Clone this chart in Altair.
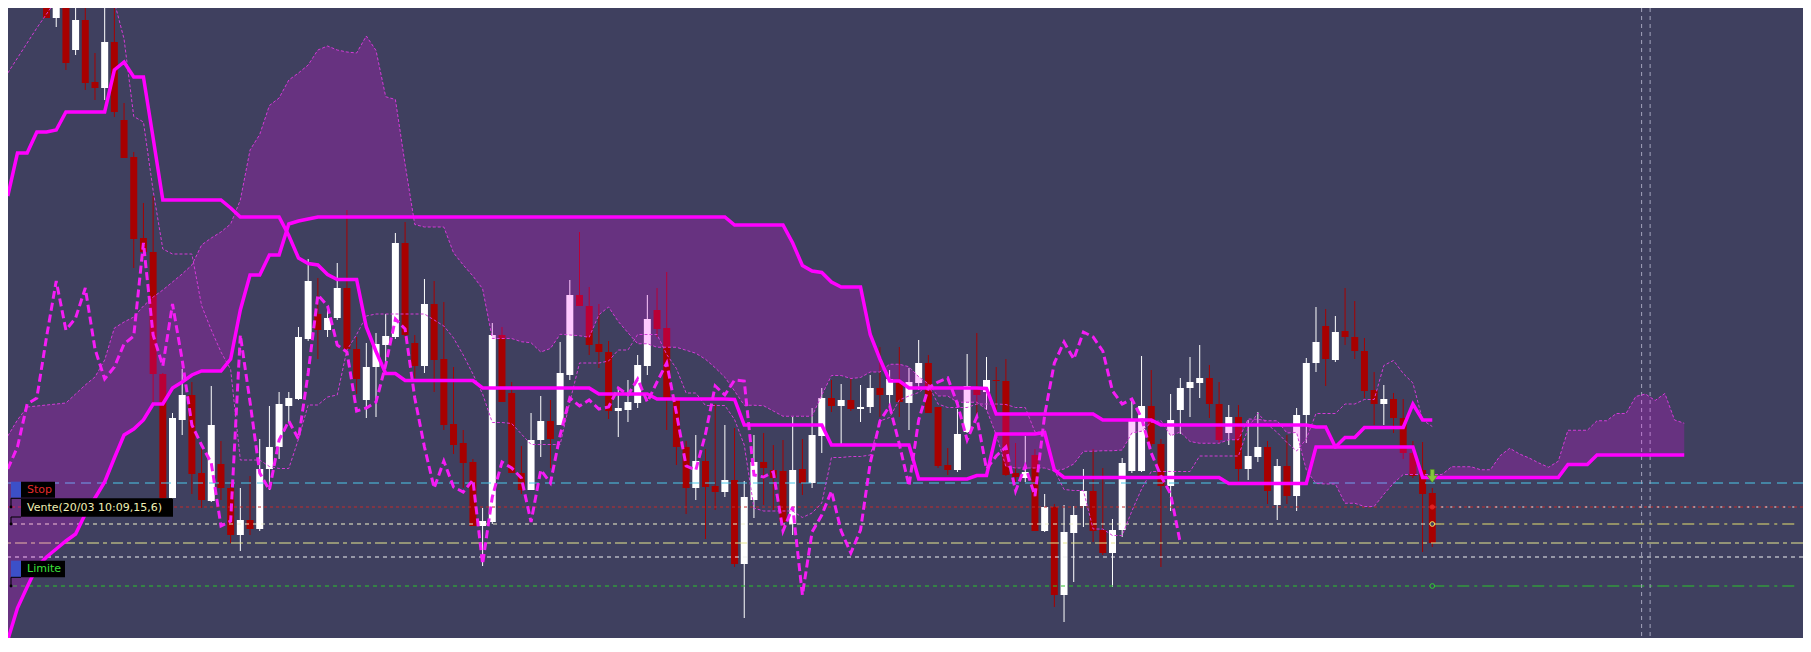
import altair as alt
import pandas as pd
import numpy as np

BG = "#3f405f"
W, H = 1795, 630
X_MIN, X_MAX = -3.46, 180.74
Y_MIN, Y_MAX = 14.29, 20.59

# ---------------- candles (bar 0 .. 143) ----------------
OPEN = [20.77, 20.49, 20.70, 20.17, 20.47, 19.85, 19.79, 20.25, 19.47, 19.10,
        18.29, 18.15, 16.93, 15.69, 16.47, 16.72, 15.94, 15.66, 16.03, 15.79,
        15.32, 15.47, 15.38, 15.98, 16.20, 16.61, 16.68, 17.28, 17.53, 17.37,
        17.49, 17.79, 17.18, 16.67, 17.00, 17.22, 17.30, 18.24, 17.24, 17.01,
        17.63, 17.08, 16.43, 16.24, 16.05, 15.41, 15.45, 17.32, 16.74, 15.94,
        15.77, 16.27, 16.46, 16.42, 16.92, 17.72, 17.61, 17.23, 17.15, 16.56,
        16.57, 16.64, 17.01, 17.57, 17.39, 16.69, 16.20, 15.79, 16.06, 15.81,
        15.75, 15.87, 15.03, 15.67, 16.05, 15.97, 15.96, 15.43, 15.98, 15.84,
        16.31, 16.69, 16.61, 16.67, 16.58, 16.60, 16.79, 16.72, 16.85, 16.64,
        16.84, 17.04, 16.60, 16.02, 15.97, 16.35, 16.79, 16.75, 16.87, 16.86,
        15.94, 15.89, 16.12, 15.36, 15.60, 14.72, 15.34, 15.61, 15.76, 15.37,
        15.14, 15.37, 15.96, 15.96, 16.61, 16.23, 15.81, 16.57, 16.79, 16.84,
        16.89, 16.63, 16.34, 16.50, 15.98, 16.10, 16.20, 15.62, 16.01, 15.71,
        16.52, 17.04, 17.41, 17.07, 17.36, 17.30, 17.16, 16.77, 16.63, 16.68,
        16.49, 16.14, 15.97, 15.74]
HIGH = [21.47, 21.02, 20.91, 20.88, 20.69, 20.14, 20.59, 20.59, 19.64, 19.15,
        18.64, 18.71, 16.94, 16.54, 16.98, 16.85, 16.18, 16.81, 16.26, 15.85,
        15.79, 15.91, 16.28, 16.61, 16.75, 16.75, 17.40, 18.08, 17.89, 17.57,
        18.04, 18.57, 17.30, 17.24, 17.34, 17.53, 18.34, 18.45, 17.32, 17.88,
        17.86, 17.65, 17.00, 16.37, 16.08, 15.59, 17.44, 17.40, 16.85, 16.21,
        16.54, 16.71, 16.67, 17.25, 17.87, 18.35, 17.80, 17.63, 17.26, 16.80,
        16.87, 17.12, 17.72, 17.79, 17.95, 16.69, 16.26, 16.32, 16.18, 16.63,
        16.42, 16.39, 15.86, 16.32, 16.34, 16.22, 16.27, 16.50, 16.28, 16.59,
        16.79, 16.87, 16.83, 16.89, 16.82, 16.92, 17.20, 16.97, 17.20, 16.99,
        17.27, 17.12, 16.60, 16.19, 16.58, 17.13, 17.34, 17.10, 17.00, 17.08,
        16.24, 16.31, 16.18, 15.73, 15.63, 15.62, 15.61, 15.98, 16.18, 15.99,
        15.48, 16.09, 16.67, 17.11, 16.97, 16.28, 16.73, 16.89, 17.10, 17.22,
        17.02, 16.85, 16.62, 16.62, 16.47, 16.55, 16.26, 16.08, 16.32, 16.59,
        17.09, 17.60, 17.58, 17.51, 17.79, 17.66, 17.29, 16.95, 16.82, 16.74,
        16.68, 16.26, 16.25, 15.79]
LOW = [20.49, 20.40, 19.97, 20.12, 19.77, 19.67, 19.67, 19.50, 19.09, 17.99,
       18.09, 16.65, 15.67, 15.68, 16.32, 15.73, 15.59, 15.65, 15.67, 15.24,
       15.16, 15.32, 15.36, 15.77, 16.08, 16.45, 16.67, 17.26, 17.08, 17.30,
       17.47, 17.16, 16.73, 16.49, 16.50, 17.02, 17.28, 17.28, 16.89, 16.94,
       16.75, 16.37, 16.13, 15.79, 15.41, 15.01, 15.43, 16.65, 15.94, 15.73,
       15.77, 16.10, 15.99, 16.42, 16.87, 17.61, 17.12, 16.99, 16.48, 16.30,
       16.45, 16.59, 16.92, 17.30, 16.37, 16.02, 15.53, 15.67, 15.28, 15.57,
       15.70, 15.00, 14.49, 15.49, 15.62, 15.57, 15.34, 15.32, 15.72, 15.79,
       16.14, 16.55, 16.22, 16.56, 16.45, 16.54, 16.50, 16.60, 16.50, 16.37,
       16.77, 16.54, 15.99, 15.92, 15.95, 16.34, 16.50, 16.57, 16.57, 15.91,
       15.85, 15.85, 15.36, 15.35, 14.60, 14.45, 14.85, 15.40, 15.25, 15.12,
       14.80, 15.30, 15.94, 15.95, 16.21, 15.00, 15.56, 16.33, 16.50, 16.69,
       16.49, 16.24, 16.22, 15.86, 15.87, 16.05, 15.63, 15.47, 15.63, 15.56,
       16.24, 16.95, 16.81, 17.05, 17.22, 17.08, 16.69, 16.42, 16.42, 16.34,
       16.08, 15.89, 15.15, 15.20]
CLOSE = [20.49, 20.72, 20.04, 20.47, 19.84, 19.79, 20.25, 19.55, 19.09, 18.28,
         18.15, 16.93, 15.69, 16.49, 16.72, 15.93, 15.67, 16.42, 15.79, 15.32,
         15.47, 15.38, 15.98, 16.20, 16.63, 16.69, 17.30, 17.86, 17.37, 17.49,
         17.79, 17.18, 16.88, 17.00, 17.23, 17.31, 18.24, 17.32, 17.01, 17.63,
         17.07, 16.42, 16.22, 16.04, 15.41, 15.46, 17.32, 16.65, 15.94, 15.77,
         16.27, 16.46, 16.28, 16.94, 17.72, 17.61, 17.22, 17.15, 16.56, 16.59,
         16.65, 17.02, 17.48, 17.38, 16.69, 16.20, 15.79, 16.06, 15.80, 15.75,
         15.87, 15.03, 15.70, 16.05, 15.99, 15.89, 15.45, 15.97, 15.84, 16.32,
         16.69, 16.61, 16.67, 16.58, 16.60, 16.79, 16.72, 16.88, 16.65, 16.85,
         17.04, 16.54, 16.01, 15.97, 16.33, 16.81, 16.72, 16.87, 16.86, 15.92,
         15.90, 15.95, 15.36, 15.60, 14.72, 15.35, 15.52, 15.76, 15.36, 15.14,
         15.37, 16.04, 16.46, 16.61, 16.23, 15.81, 16.47, 16.79, 16.85, 16.89,
         16.63, 16.27, 16.50, 15.98, 16.11, 16.20, 15.76, 16.01, 15.71, 16.52,
         17.04, 17.25, 17.08, 17.35, 17.30, 17.16, 16.76, 16.63, 16.68, 16.49,
         16.14, 15.91, 15.73, 15.24]

# ------------- indicator values read where their window leaves the chart -------------
FIRST_BAR = -4
TENKAN_EARLY = [19.94, 20.09, 20.24, 20.39, 20.53, 20.67, 20.79, 20.87, 20.79, 20.75,
                20.73, 20.65]                                    # bars -4 .. 7
KIJUN_EARLY = [18.71, 19.14, 19.14, 19.35, 19.35, 19.37, 19.55, 19.55, 19.55, 19.55,
               19.55, 19.97, 20.05, 19.90, 19.90, 19.29, 18.67, 18.67, 18.67, 18.67,
               18.67, 18.67, 18.67, 18.59, 18.50, 18.50, 18.50, 18.50, 18.50]   # bars -4 .. 24
SENKOU_A_EARLY = [16.31, 16.47, 16.60, 16.61, 16.62, 16.63, 16.64, 16.73, 16.82, 16.90,
                  17.07, 17.39, 17.45, 17.50, 17.61, 17.70, 17.77, 17.85, 17.93, 18.02,
                  18.22, 18.29, 18.35, 18.43, 18.67, 19.17]     # bars -4 .. 21
SENKOU_B_EARLY = [14.27, 14.59, 14.80, 15.00, 15.10, 15.18, 15.26, 15.33, 15.53, 15.69,
                  15.85, 16.09, 16.32, 16.38, 16.47, 16.63, 16.63, 16.79, 16.85, 16.92,
                  16.96, 16.96, 16.96, 17.08, 17.57, 17.92, 17.92, 18.12, 18.12, 18.43,
                  18.46, 18.48, 18.50, 18.50, 18.50, 18.50, 18.50, 18.50, 18.50, 18.50,
                  18.50, 18.50, 18.50, 18.50, 18.50, 18.50, 18.50, 18.50, 18.50, 18.50,
                  18.50, 18.50, 18.50, 18.50, 18.50, 18.50, 18.50, 18.50, 18.50, 18.50,
                  18.50, 18.50, 18.50, 18.50, 18.50, 18.50, 18.50, 18.50, 18.50, 18.50,
                  18.50, 18.50, 18.50, 18.50, 18.50, 18.42, 18.42, 18.42, 18.42, 18.42,
                  18.42]                                          # bars -4 .. 76

# ---------------- order levels ----------------
LEVEL_NAMES = ["Stop", "Vente", "Niveau 1", "Niveau 2", "Niveau 3", "Limite"]
LEVEL_PRICES = [15.84, 15.60, 15.43, 15.24, 15.10, 14.81]
ENTRY_BAR = 143
SIGNAL_PRICE = 15.91
TIME_MARKERS = [164.60, 165.48]
LABEL_TEXTS = ["Stop", "Vente(20/03 10:09,15,6)", "Limite"]

# ---------------- build tables ----------------
n = len(CLOSE)
candles = pd.DataFrame({"bar": list(range(n)), "open": OPEN, "high": HIGH,
                        "low": LOW, "close": CLOSE})
candles["dir"] = np.where(candles["close"] >= candles["open"], "up", "down")

hi = pd.Series(HIGH, dtype=float)
lo = pd.Series(LOW, dtype=float)


def midpoint(window):
    return (hi.rolling(window).max() + lo.rolling(window).min()) / 2


t_calc, k_calc, b_calc = midpoint(9), midpoint(26), midpoint(52)

tenkan = dict(zip(range(FIRST_BAR, FIRST_BAR + len(TENKAN_EARLY)), TENKAN_EARLY))
for b in range(FIRST_BAR + len(TENKAN_EARLY), n):
    tenkan[b] = float(t_calc[b])
kijun = dict(zip(range(FIRST_BAR, FIRST_BAR + len(KIJUN_EARLY)), KIJUN_EARLY))
for b in range(FIRST_BAR + len(KIJUN_EARLY), n):
    kijun[b] = float(k_calc[b])
span_a = dict(zip(range(FIRST_BAR, FIRST_BAR + len(SENKOU_A_EARLY)), SENKOU_A_EARLY))
for b in range(FIRST_BAR + len(SENKOU_A_EARLY), n + 26):
    span_a[b] = (tenkan[b - 26] + kijun[b - 26]) / 2
span_b = dict(zip(range(FIRST_BAR, FIRST_BAR + len(SENKOU_B_EARLY)), SENKOU_B_EARLY))
for b in range(FIRST_BAR + len(SENKOU_B_EARLY), n + 26):
    span_b[b] = float(b_calc[b - 26])

ind_bars = list(range(FIRST_BAR, n))
ind = pd.DataFrame({"bar": ind_bars,
                    "tenkan": [tenkan[b] for b in ind_bars],
                    "kijun": [kijun[b] for b in ind_bars]})
cloud_bars = list(range(FIRST_BAR, n + 26))
cloud = pd.DataFrame({"bar": cloud_bars,
                      "sa": [span_a[b] for b in cloud_bars],
                      "sb": [span_b[b] for b in cloud_bars]})
chikou = pd.DataFrame({"bar": [i - 26 for i in range(26 + FIRST_BAR, n)],
                       "value": [CLOSE[i] for i in range(26 + FIRST_BAR, n)]})

XS = alt.Scale(domain=[X_MIN, X_MAX], nice=False, zero=False)
YS = alt.Scale(domain=[Y_MIN, Y_MAX], nice=False, zero=False)


def xq(f):
    return alt.X(f, type="quantitative", scale=XS, axis=None)


def yq(f):
    return alt.Y(f, type="quantitative", scale=YS, axis=None)


col = alt.Color("dir:N", scale=alt.Scale(domain=["up", "down"], range=["#ffffff", "#a80000"]),
                legend=None)

layers = []
layers.append(alt.Chart(candles).mark_rule(strokeWidth=1, clip=True).encode(
    x=xq("bar"), y=yq("low"), y2="high", color=col))
layers.append(alt.Chart(candles).mark_bar(size=7, clip=True).encode(
    x=xq("bar"), y=yq("open"), y2="close", color=col))

P = dict(zip(LEVEL_NAMES, LEVEL_PRICES))


def full_line(price, color, dash):
    return alt.Chart(pd.DataFrame({"price": [price]})).mark_rule(
        color=color, strokeDash=dash, strokeWidth=1).encode(y=yq("price"))


def part_line(price, x0, x1, color, dash):
    return alt.Chart(pd.DataFrame({"price": [price], "x0": [x0], "x1": [x1]})).mark_rule(
        color=color, strokeDash=dash, strokeWidth=1, clip=True).encode(
        x=xq("x0"), x2="x1", y=yq("price"))


layers += [
    full_line(P["Stop"], "#4cc8ea", [10, 6]),
    full_line(P["Vente"], "#c42a2a", [3, 3]),
    part_line(P["Vente"], ENTRY_BAR, X_MAX, "#e8e8e8", [2, 7]),
    part_line(P["Niveau 1"], X_MIN, ENTRY_BAR, "#f2f2cc", [4, 4]),
    part_line(P["Niveau 1"], ENTRY_BAR, X_MAX, "#e6e070", [12, 5, 3, 5]),
    full_line(P["Niveau 2"], "#e8e890", [12, 4, 4, 4]),
    full_line(P["Niveau 3"], "#f0f0f0", [4, 4]),
    part_line(P["Limite"], X_MIN, ENTRY_BAR, "#2cc42c", [4, 4]),
    part_line(P["Limite"], ENTRY_BAR, X_MAX, "#2cc42c", [12, 5, 3, 5]),
]

layers.append(alt.Chart(pd.DataFrame({"bar": TIME_MARKERS})).mark_rule(
    color="#a4a4bc", strokeDash=[4, 4], strokeWidth=1).encode(x=xq("bar")))

# cloud
layers.append(alt.Chart(cloud).mark_area(fill="#ff00ff", fillOpacity=0.21, clip=True).encode(
    x=xq("bar"), y=yq("sa"), y2="sb"))
# thin dashed lines
layers.append(alt.Chart(cloud).mark_line(color="#d43ad8", strokeWidth=1, strokeDash=[3, 2],
                                         clip=True).encode(x=xq("bar"), y=yq("sa")))
layers.append(alt.Chart(ind).mark_line(color="#d43ad8", strokeWidth=1, strokeDash=[3, 2],
                                       clip=True).encode(x=xq("bar"), y=yq("tenkan")))
# thick lines
layers.append(alt.Chart(cloud).mark_line(color="#ff00ff", strokeWidth=3.5, clip=True).encode(
    x=xq("bar"), y=yq("sb")))
layers.append(alt.Chart(ind).mark_line(color="#ff00ff", strokeWidth=3.5, clip=True).encode(
    x=xq("bar"), y=yq("kijun")))
# lagging line
layers.append(alt.Chart(chikou).mark_line(color="#f51cf5", strokeWidth=3, strokeDash=[8, 4],
                                          clip=True).encode(x=xq("bar"), y=yq("value")))

# markers at entry bar
def marker(price, fill, stroke, size):
    return alt.Chart(pd.DataFrame({"bar": [ENTRY_BAR], "price": [price]})).mark_point(
        shape="circle", size=size, filled=(fill is not None), fill=fill if fill else BG,
        stroke=stroke, strokeWidth=1, opacity=1).encode(x=xq("bar"), y=yq("price"))


layers += [marker(P["Vente"], "#e02020", "#e02020", 18),
           marker(P["Niveau 1"], BG, "#f0e060", 22),
           marker(P["Limite"], BG, "#30d030", 22)]

ARROW = "M-0.3,-1 L0.3,-1 L0.3,-0.05 L0.8,-0.05 L0,1 L-0.8,-0.05 L-0.3,-0.05 Z"
layers.append(alt.Chart(pd.DataFrame({"bar": [ENTRY_BAR], "price": [SIGNAL_PRICE]})).mark_point(
    shape=ARROW, size=170, filled=True, fill="#84c63c", stroke="#4e8c1c", strokeWidth=0.6,
    opacity=1).encode(x=xq("bar"), y=yq("price")))

# order labels at the left edge
def box(price, x0, x1, off0, off1, fill):
    return alt.Chart(pd.DataFrame({"price": [price]})).mark_rect(
        fill=fill, yOffset=off0, y2Offset=off1).encode(
        x=alt.value(x0), x2=alt.value(x1), y=yq("price"), y2="price")


def label(price, text, color, dy):
    return alt.Chart(pd.DataFrame({"price": [price], "text": [text]})).mark_text(
        align="left", baseline="middle", font="DejaVu Sans", fontSize=11, color=color,
        dy=dy).encode(x=alt.value(19), y=yq("price"), text="text:N")


def bracket(price, top):
    d = pd.DataFrame({"price": [price]})
    v = alt.Chart(d).mark_rule(color="#000000", strokeWidth=1, yOffset=top, y2Offset=0).encode(
        x=alt.value(3), y=yq("price"), y2="price")
    h = alt.Chart(d).mark_rule(color="#000000", strokeWidth=1, yOffset=top).encode(
        x=alt.value(3), x2=alt.value(13), y=yq("price"))
    dot = alt.Chart(d).mark_point(shape="circle", size=8, filled=True, color="#000000",
                                  opacity=1).encode(x=alt.value(3), y=yq("price"))
    return [v, h, dot]


layers += [
    box(P["Stop"], 3, 13, -1.3, 14.7, "#3c50c8"),
    box(P["Stop"], 13, 47, -1.3, 14.7, "#000000"),
    label(P["Stop"], LABEL_TEXTS[0], "#e22a2a", 6.7),
    box(P["Vente"], 13, 165, -8.7, 9.7, "#000000"),
    label(P["Vente"], LABEL_TEXTS[1], "#f0f0b4", 0.5),
    box(P["Limite"], 3, 13, -25.3, -8.7, "#3c50c8"),
    box(P["Limite"], 13, 57, -25.3, -8.7, "#000000"),
    label(P["Limite"], LABEL_TEXTS[2], "#3ce03c", -17),
]
layers += bracket(P["Vente"], -8.7)
layers += bracket(P["Niveau 1"], -7)
layers += bracket(P["Limite"], -8.7)

chart = alt.layer(*layers).properties(
    width=W, height=H, background=BG, padding=0,
    autosize=alt.AutoSizeParams(type="none"),
).configure_view(stroke=None)

chart.save("out.html", embed_options={"renderer": "svg", "actions": False})
